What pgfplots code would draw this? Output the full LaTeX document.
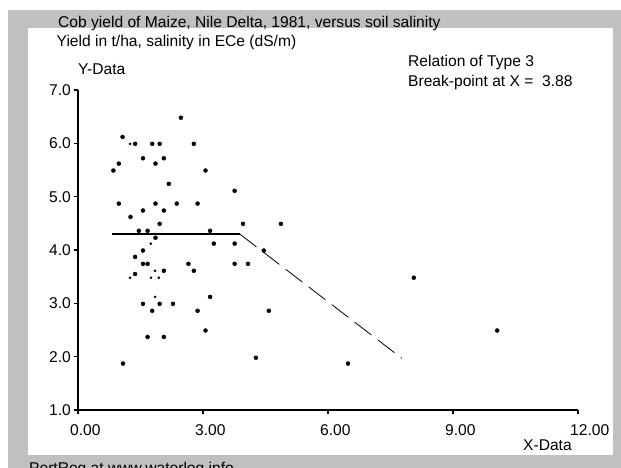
\documentclass[border=0pt]{standalone}
\usepackage{fontspec}
\setmainfont{Liberation Sans}
\usepackage{pgfplots}
\pgfplotsset{compat=1.18}
\definecolor{frame}{RGB}{192,192,192}

\begin{document}
\begin{tikzpicture}[x=1pt,y=1pt,font=\fontsize{15.6}{18}\selectfont]
\useasboundingbox (0,0) rectangle (621,468);
\clip (0,0) rectangle (621,468);
% window background
\fill[white] (0,0) rectangle (621,468);
\fill[frame] (8,0) rectangle (621,458);
\fill[white] (28,13) rectangle (613,439.7);

% texts
\node[anchor=base west, inner sep=0pt] at (58,440.3) {Cob yield of Maize, Nile Delta, 1981, versus soil salinity};
\node[anchor=base west, inner sep=0pt] at (56.5,421.3) {Yield in t/ha, salinity in ECe (dS/m)};
\node[anchor=base west, inner sep=0pt] at (78,393) {Y-Data};
\node[anchor=base west, inner sep=0pt] at (408,401.3) {Relation of Type 3};
\node[anchor=base west, inner sep=0pt] at (408,381.3) {Break-point at X =~ 3.88};
\node[anchor=base west, inner sep=0pt] at (523,17.3) {X-Data};
\node[anchor=base west, inner sep=0pt] at (29,-5.3) {PertReg at www.waterlog.info};

\begin{axis}[
  at={(78pt,58pt)}, anchor=south west,
  scale only axis, width=500pt, height=320pt,
  xmin=0, xmax=12, ymin=1, ymax=7,
  axis lines=left,
  axis line style={line width=2pt, -},
  xtick={0,3,6,9,12},
  xticklabels={0.00,3.00,6.00,9.00,12.00},
  ytick={1,2,3,4,5,6,7},
  yticklabels={1.0,2.0,3.0,4.0,5.0,6.0,7.0},
  tick align=outside,
  major tick length=4pt,
  tick style={line width=1.5pt, black},
  xticklabel style={anchor=base west, inner sep=0pt, xshift=-8pt, yshift=-22pt},
  yticklabel style={anchor=east, inner sep=0pt, xshift=-3pt},
  clip=false,
]
% observed data
\addplot[only marks, mark=*, mark size=2pt, black] coordinates {
  (0.85,5.49) (0.98,5.62) (1.07,6.12) (1.37,5.99) (1.78,5.99) (1.96,5.99)
  (1.56,5.72) (1.86,5.62) (2.06,5.72) (2.47,6.48) (2.78,5.99) (3.06,5.49)
  (2.18,5.24) (0.98,4.87) (1.86,4.87) (2.37,4.87) (2.87,4.87) (3.76,5.11)
  (1.26,4.62) (1.56,4.74) (2.06,4.74) (1.96,4.49) (1.46,4.36) (1.67,4.36)
  (3.17,4.36) (1.86,4.23) (3.26,4.12) (3.76,4.12) (1.37,3.87) (1.56,3.99)
  (1.37,3.55) (1.56,3.74) (1.67,3.74) (2.06,3.61) (2.65,3.74) (2.78,3.61)
  (3.76,3.74) (1.56,2.99) (1.96,2.99) (2.28,2.99) (1.78,2.86) (2.87,2.86)
  (3.17,3.12) (3.06,2.49) (1.67,2.37) (2.06,2.37) (1.08,1.87) (3.96,4.49)
  (4.87,4.49) (4.46,3.99) (4.08,3.74) (4.58,2.86) (4.27,1.98) (6.48,1.87)
  (8.06,3.48) (10.06,2.49)
};
% partly hidden points
\addplot[only marks, mark=*, mark size=1.1pt, black] coordinates {
  (1.25,5.99) (1.75,4.12) (1.25,3.48) (1.75,3.48) (1.85,3.61) (1.94,3.48)
  (1.85,3.12)
};
% fitted broken-line relation
\addplot[black, line width=2pt] coordinates {(0.81,4.30) (3.88,4.30)};
\addplot[black, line width=0.8pt, dash pattern=on 21pt off 8pt] coordinates {(3.88,4.30) (7.77,1.97)};
\end{axis}
\end{tikzpicture}
\end{document}
